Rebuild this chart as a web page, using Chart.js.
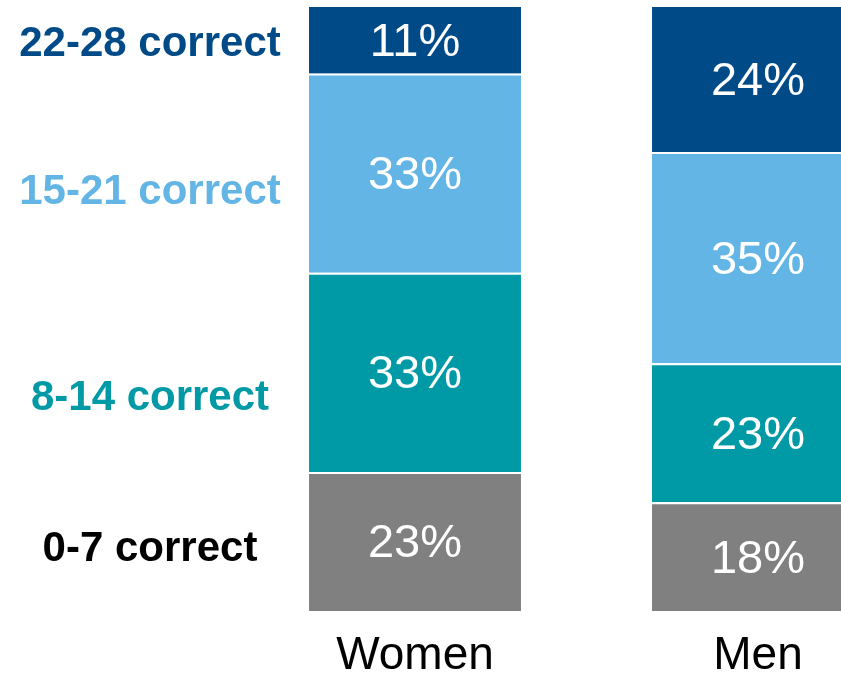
<!DOCTYPE html>
<html>
<head>
<meta charset="utf-8">
<script src="https://cdn.jsdelivr.net/npm/chart.js@4"></script>
<style>
  html, body { margin: 0; padding: 0; background: #fff; overflow: hidden; }
  #wrap { width: 930px; height: 677px; }
</style>
</head>
<body>
<div id="wrap"><canvas id="scoreChart" width="930" height="677"></canvas></div>
<script>
const groups = ['Women', 'Men'];
const levelNames = ['0-7 correct', '8-14 correct', '15-21 correct', '22-28 correct'];
const score0to7 = [23, 18];
const score8to14 = [33, 23];
const score15to21 = [33, 35];
const score22to28 = [11, 24];

const barColors = ['#808080', '#009AA6', '#63B5E5', '#004B87'];
const levelTextColors = ['#000000', '#009AA6', '#63B5E5', '#004B87'];
const FONT = '"Liberation Sans", Arial, sans-serif';

const seriesValues = [score0to7, score8to14, score15to21, score22to28];

// percent text in the middle of each segment
const segmentLabels = {
    id: 'segmentLabels',
    afterDatasetsDraw(chart) {
        const ctx = chart.ctx;
        ctx.save();
        ctx.fillStyle = '#ffffff';
        ctx.font = '47px ' + FONT;
        ctx.textAlign = 'center';
        ctx.textBaseline = 'middle';
        chart.data.datasets.forEach((ds, i) => {
            chart.getDatasetMeta(i).data.forEach((bar, j) => {
                const mid = (bar.y + bar.base) / 2;
                ctx.fillText(ds.data[j] + '%', bar.x, mid + 3);
            });
        });
        ctx.restore();
    }
};

// level names on the left
const levelLabels = {
    id: 'levelLabels',
    afterDraw(chart) {
        const ctx = chart.ctx;
        const y = chart.scales.y;
        const anchors = [10.6, 35.6, 69.7, 94.2]; // where the names sit on the scale
        ctx.save();
        ctx.font = 'bold 42px ' + FONT;
        ctx.textAlign = 'center';
        ctx.textBaseline = 'middle';
        levelNames.forEach((name, i) => {
            ctx.fillStyle = levelTextColors[i];
            ctx.fillText(name, 150, y.getPixelForValue(anchors[i]) + 2);
        });
        ctx.restore();
    }
};

new Chart(document.getElementById('scoreChart'), {
    type: 'bar',
    data: {
        labels: groups,
        datasets: levelNames.map((name, i) => ({
            label: name,
            data: seriesValues[i],
            backgroundColor: barColors[i],
            borderColor: '#ffffff',
            borderWidth: i === levelNames.length - 1 ? 0 : { top: 2 },
            borderSkipped: false,
            barPercentage: 0.618,
            categoryPercentage: 1
        }))
    },
    options: {
        responsive: false,
        animation: false,
        layout: { padding: { left: 243.5, right: 0.5, top: 7, bottom: 0 } },
        plugins: {
            legend: { display: false },
            tooltip: { enabled: false }
        },
        scales: {
            x: {
                stacked: true,
                grid: { display: false, drawTicks: false },
                border: { display: false },
                ticks: {
                    color: '#000000',
                    font: { family: FONT, size: 46 },
                    padding: 18
                },
                afterFit(scale) { scale.height = 66; }
            },
            y: {
                stacked: true,
                display: false,
                min: 0,
                max: 100
            }
        }
    },
    plugins: [segmentLabels, levelLabels]
});
</script>
</body>
</html>
